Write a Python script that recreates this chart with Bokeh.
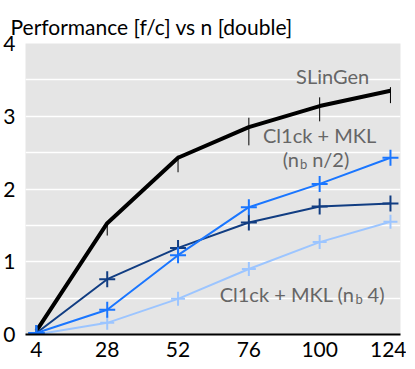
from bokeh.plotting import figure
from bokeh.models import FixedTicker, Range1d, Label
from bokeh.embed import file_html
from bokeh.resources import INLINE

FONT = "Lato"

n_values = [4, 28, 52, 76, 100, 124]
x_tick_labels = ["4", "28", "52", "76", "100", "124"]
y_ticks = [0, 1, 2, 3, 4]

slingen = [0.05, 1.53, 2.43, 2.85, 3.14, 3.35]
slingen_lo = [0.0, 1.36, 2.23, 2.60, 2.93, 3.18]
slingen_hi = [0.08, 1.54, 2.46, 2.98, 3.26, 3.40]

click_mkl_navy = [0.02, 0.76, 1.19, 1.54, 1.76, 1.80]
click_mkl_half = [0.02, 0.34, 1.09, 1.75, 2.07, 2.43]
click_mkl_4 = [0.00, 0.16, 0.49, 0.90, 1.27, 1.55]

NAVY = "#113d82"
BLUE = "#1a76ff"
LIGHT = "#9cc5ff"
GRAY_TXT = "#666666"

p = figure(width=406, height=359, output_backend="svg", toolbar_location=None,
           x_range=Range1d(0.3, 127.4), y_range=Range1d(0, 4),
           min_border_left=0, min_border_right=6, min_border_top=43, min_border_bottom=0,
           title="Performance [f/c] vs n [double]")
p.background_fill_color = "#e5e5e5"
p.border_fill_color = "white"
p.outline_line_color = None

p.title.text_font = FONT
p.title.text_font_size = "21px"
p.title.text_font_style = "normal"
p.title.text_color = "black"
p.title.align = "left"
p.title.offset = -15
p.title.standoff = 9

p.xgrid.grid_line_color = None
p.ygrid.ticker = FixedTicker(ticks=[0.5, 1, 1.5, 2, 2.5, 3, 3.5])
p.ygrid.grid_line_color = "white"
p.ygrid.grid_line_width = 1.5

p.xaxis.ticker = FixedTicker(ticks=n_values)
p.xaxis.major_label_overrides = {n: s for n, s in zip(n_values, x_tick_labels)}
p.yaxis.ticker = FixedTicker(ticks=y_ticks)
for ax in (p.xaxis[0], p.yaxis[0]):
    ax.major_label_text_font = FONT
    ax.major_label_text_font_size = "21px"
    ax.major_label_text_color = "black"
    ax.major_tick_line_color = None
    ax.minor_tick_line_color = None
p.xaxis.axis_line_color = "black"
p.xaxis.axis_line_width = 2
p.xaxis.major_label_standoff = 1
p.yaxis.axis_line_color = None
p.yaxis.major_label_standoff = 4

# SLinGen
p.segment(x0=n_values, y0=slingen_lo, x1=n_values, y1=slingen_hi, line_color="black", line_width=1)
p.line(n_values, slingen, line_color="black", line_width=4)

# Cl1ck + MKL series
p.line(n_values, click_mkl_4, line_color=LIGHT, line_width=2)
p.scatter(n_values, click_mkl_4, marker="cross", size=14, line_color=LIGHT, line_width=2)
p.line(n_values, click_mkl_navy, line_color=NAVY, line_width=2)
p.scatter(n_values, click_mkl_navy, marker="cross", size=16, line_color=NAVY, line_width=2)
p.line(n_values, click_mkl_half, line_color=BLUE, line_width=2)
p.scatter(n_values, click_mkl_half, marker="cross", size=16, line_color=BLUE, line_width=2)

def lab(x, y, text, size="20px", align="center", xo=0, yo=0):
    p.add_layout(Label(x=x, y=y, text=text, text_font=FONT, text_font_size=size,
                       text_color=GRAY_TXT, text_align=align, text_baseline="middle",
                       x_offset=xo, y_offset=yo))

lab(104.4, 3.56, "SLinGen")
lab(100.0, 2.74, "Cl1ck + MKL")
lab(93.0, 2.41, "(n", align="right")
lab(93.0, 2.41, "b", size="13px", align="left", xo=1, yo=-5)
lab(93.0, 2.41, "\u00a0n/2)", align="left", xo=8)
lab(111.8, 0.56, "Cl1ck + MKL (n", align="right")
lab(111.8, 0.56, "b", size="13px", align="left", xo=1, yo=-5)
lab(111.8, 0.56, "\u00a04)", align="left", xo=8)

open("out.html", "w").write(file_html(p, INLINE))
